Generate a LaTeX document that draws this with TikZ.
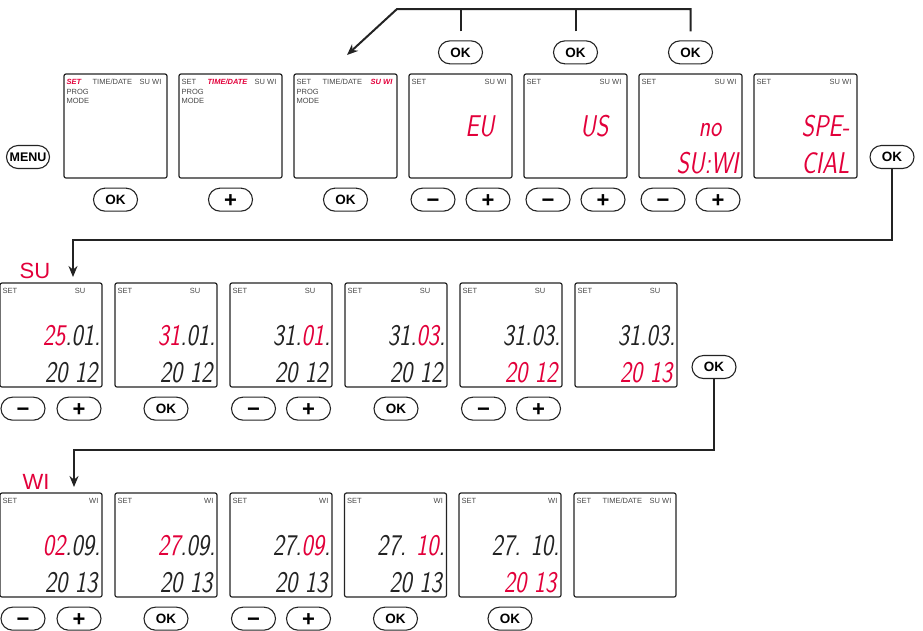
\documentclass[tikz,border=0pt]{standalone}
\usepackage{fontspec}
\setmainfont{Liberation Sans}
\usepackage{graphicx}
\usetikzlibrary{shapes.misc, arrows.meta, positioning}
\definecolor{lcdred}{RGB}{226,0,58}
\definecolor{ink}{RGB}{35,35,35}
\definecolor{tagc}{RGB}{70,70,70}
\newcommand{\seg}[1]{\scalebox{0.8}[1]{\fontsize{30}{30}\selectfont\sffamily\slshape #1}}
\newcommand{\hi}[1]{\textcolor{lcdred}{#1}}
\tikzset{
  % --- Anzeige ----------------------------------------------
  lcd/.style={draw=ink, line width=1.2pt, rounded corners=2pt,
    minimum width=103pt, minimum height=104pt, inner sep=0pt},
  lcdtag/.style={font=\fontsize{7.5}{8}\selectfont, text=tagc, inner sep=0pt},
  lcdon/.style={lcdtag, text=lcdred, font=\fontsize{7.5}{8}\selectfont\bfseries\itshape},
  digs/.style={inner sep=0pt, text=ink, anchor=base east},
  rowlbl/.style={text=lcdred, font=\fontsize{22}{22}\selectfont, inner sep=0pt},
  % --- Tasten -----------------------------------------------
  btn/.style={draw=ink, line width=1.1pt, rounded rectangle, minimum width=44pt,
    minimum height=23pt, inner sep=0pt, text height=9.6pt, text depth=0pt,
    font=\fontsize{13.5}{13.5}\selectfont\bfseries},
  btnsym/.style={btn, text height=15pt, font=\fontsize{22}{22}\selectfont\bfseries},
  % --- Pfeile -----------------------------------------------
  fl/.style={draw=ink, line width=2pt, -{Stealth[length=11pt, width=9pt]}},
  plain/.style={draw=ink, line width=2pt}
}
\begin{document}
\begin{tikzpicture}[x=1pt, y=-1pt]
  \useasboundingbox (0,0) rectangle (923,630);

  % --- Menue: SET / TIME/DATE / SU WI ---
  \node[btn, minimum width=43pt, font=\fontsize{12.5}{12.5}\selectfont\bfseries] (menu) at (28,157) {MENU};
  \node[lcd] (t1) at (115.5,126) {};
  \node[lcd] (t2) at (230.5,126) {};
  \node[lcd] (t3) at (345.5,126) {};
  \node[lcd] (t4) at (460.5,126) {};
  \node[lcd] (t5) at (575.5,126) {};
  \node[lcd] (t6) at (690.5,126) {};
  \node[lcd] (t7) at (805.5,126) {};

  \node[lcdon, anchor=base west] (t1a) at ([xshift=3pt, yshift=-11pt]t1.north west) {SET};
  \node[lcdtag, anchor=base west] (t1b) at ([xshift=29pt, yshift=-11pt]t1.north west) {TIME/DATE};
  \node[lcdtag, anchor=base east] (t1c) at ([xshift=-6pt, yshift=-11pt]t1.north east) {SU WI};
  \node[lcdtag, anchor=base west] (t1d) at ([xshift=3pt, yshift=-21pt]t1.north west) {PROG};
  \node[lcdtag, anchor=base west] (t1e) at ([xshift=3pt, yshift=-30pt]t1.north west) {MODE};

  \node[lcdtag, anchor=base west] (t2a) at ([xshift=3pt, yshift=-11pt]t2.north west) {SET};
  \node[lcdon, anchor=base west] (t2b) at ([xshift=29pt, yshift=-11pt]t2.north west) {TIME/DATE};
  \node[lcdtag, anchor=base east] (t2c) at ([xshift=-6pt, yshift=-11pt]t2.north east) {SU WI};
  \node[lcdtag, anchor=base west] (t2d) at ([xshift=3pt, yshift=-21pt]t2.north west) {PROG};
  \node[lcdtag, anchor=base west] (t2e) at ([xshift=3pt, yshift=-30pt]t2.north west) {MODE};

  \node[lcdtag, anchor=base west] (t3a) at ([xshift=3pt, yshift=-11pt]t3.north west) {SET};
  \node[lcdtag, anchor=base west] (t3b) at ([xshift=29pt, yshift=-11pt]t3.north west) {TIME/DATE};
  \node[lcdon, anchor=base east] (t3c) at ([xshift=-5pt, yshift=-11pt]t3.north east) {SU WI};
  \node[lcdtag, anchor=base west] (t3d) at ([xshift=3pt, yshift=-21pt]t3.north west) {PROG};
  \node[lcdtag, anchor=base west] (t3e) at ([xshift=3pt, yshift=-30pt]t3.north west) {MODE};

  % --- Auswahl EU / US / no SU:WI / SPE-CIAL ---
  \node[lcdtag, anchor=base west] (t4a) at ([xshift=3pt, yshift=-11pt]t4.north west) {SET};
  \node[lcdtag, anchor=base east] (t4c) at ([xshift=-6pt, yshift=-11pt]t4.north east) {SU WI};
  \node[digs] (t4x) at ([xshift=-18pt, yshift=-63pt]t4.north east) {\seg{\hi{EU}}};
  \node[lcdtag, anchor=base west] (t5a) at ([xshift=3pt, yshift=-11pt]t5.north west) {SET};
  \node[lcdtag, anchor=base east] (t5c) at ([xshift=-6pt, yshift=-11pt]t5.north east) {SU WI};
  \node[digs] (t5x) at ([xshift=-19pt, yshift=-63pt]t5.north east) {\seg{\hi{US}}};
  \node[lcdtag, anchor=base west] (t6a) at ([xshift=3pt, yshift=-11pt]t6.north west) {SET};
  \node[lcdtag, anchor=base east] (t6c) at ([xshift=-6pt, yshift=-11pt]t6.north east) {SU WI};
  \node[digs] (t6x) at ([xshift=-21pt, yshift=-63pt]t6.north east) {\seg{\hi{no}}};
  \node[digs] (t6y) at ([xshift=-4pt, yshift=-100pt]t6.north east) {\seg{\hi{SU:WI}}};
  \node[lcdtag, anchor=base west] (t7a) at ([xshift=3pt, yshift=-11pt]t7.north west) {SET};
  \node[lcdtag, anchor=base east] (t7c) at ([xshift=-6pt, yshift=-11pt]t7.north east) {SU WI};
  \node[digs] (t7x) at ([xshift=-8pt, yshift=-63pt]t7.north east) {\seg{\hi{SPE-}}};
  \node[digs] (t7y) at ([xshift=-8pt, yshift=-100pt]t7.north east) {\seg{\hi{CIAL}}};

  \node[btn, below=9pt of t1] (k1) {OK};
  \node[btnsym, below=9pt of t2] (k2) {+};
  \node[btn, below=9pt of t3] (k3) {OK};
  \node[btnsym, below=9pt of t4, xshift=-27.5pt] (k4m) {−};
  \node[btnsym, below=9pt of t4, xshift=27.5pt] (k4p) {+};
  \node[btnsym, below=9pt of t5, xshift=-27.5pt] (k5m) {−};
  \node[btnsym, below=9pt of t5, xshift=27.5pt] (k5p) {+};
  \node[btnsym, below=9pt of t6, xshift=-27.5pt] (k6m) {−};
  \node[btnsym, below=9pt of t6, xshift=27.5pt] (k6p) {+};
  \node[btn, above=9pt of t4] (okD) {OK};
  \node[btn, above=9pt of t5] (okE) {OK};
  \node[btn, above=9pt of t6] (okF) {OK};
  \node[btn] (okM) at (892,157) {OK};

  % --- OK fuehrt zurueck zu SU WI ---
  \coordinate (bend) at (397,9);
  \coordinate (tipT) at (347,55);
  \draw[fl] ([yshift=9pt]okF.north) |- (bend) -- (tipT);
  \draw[plain] ([yshift=9pt]okD.north) -- (okD.north |- bend);
  \draw[plain] ([yshift=9pt]okE.north) -- (okE.north |- bend);

  % --- Sommerzeit ---
  \node[rowlbl] (su) at (35,271) {SU};
  \node[lcd, minimum width=102pt] (s1) at (51,335) {};
  \node[lcd, minimum width=102pt] (s2) at (166,335) {};
  \node[lcd, minimum width=102pt] (s3) at (281,335) {};
  \node[lcd, minimum width=102pt] (s4) at (396,335) {};
  \node[lcd, minimum width=102pt] (s5) at (511,335) {};
  \node[lcd, minimum width=102pt] (s6) at (626,335) {};

  \node[lcdtag, anchor=base west] (s1a) at ([xshift=3pt, yshift=-11pt]s1.north west) {SET};
  \node[lcdtag, anchor=base east] (s1c) at ([xshift=-17pt, yshift=-11pt]s1.north east) {SU};
  \node[digs] (s1x) at ([xshift=-2pt, yshift=-63pt]s1.north east) {\seg{\hi{25}.01.}};
  \node[digs] (s1y) at ([xshift=-5pt, yshift=-100pt]s1.north east) {\seg{20 12}};
  \node[lcdtag, anchor=base west] (s2a) at ([xshift=3pt, yshift=-11pt]s2.north west) {SET};
  \node[lcdtag, anchor=base east] (s2c) at ([xshift=-17pt, yshift=-11pt]s2.north east) {SU};
  \node[digs] (s2x) at ([xshift=-2pt, yshift=-63pt]s2.north east) {\seg{\hi{31}.01.}};
  \node[digs] (s2y) at ([xshift=-5pt, yshift=-100pt]s2.north east) {\seg{20 12}};
  \node[lcdtag, anchor=base west] (s3a) at ([xshift=3pt, yshift=-11pt]s3.north west) {SET};
  \node[lcdtag, anchor=base east] (s3c) at ([xshift=-17pt, yshift=-11pt]s3.north east) {SU};
  \node[digs] (s3x) at ([xshift=-2pt, yshift=-63pt]s3.north east) {\seg{31.\hi{01}.}};
  \node[digs] (s3y) at ([xshift=-5pt, yshift=-100pt]s3.north east) {\seg{20 12}};
  \node[lcdtag, anchor=base west] (s4a) at ([xshift=3pt, yshift=-11pt]s4.north west) {SET};
  \node[lcdtag, anchor=base east] (s4c) at ([xshift=-17pt, yshift=-11pt]s4.north east) {SU};
  \node[digs] (s4x) at ([xshift=-2pt, yshift=-63pt]s4.north east) {\seg{31.\hi{03}.}};
  \node[digs] (s4y) at ([xshift=-5pt, yshift=-100pt]s4.north east) {\seg{20 12}};
  \node[lcdtag, anchor=base west] (s5a) at ([xshift=3pt, yshift=-11pt]s5.north west) {SET};
  \node[lcdtag, anchor=base east] (s5c) at ([xshift=-17pt, yshift=-11pt]s5.north east) {SU};
  \node[digs] (s5x) at ([xshift=-2pt, yshift=-63pt]s5.north east) {\seg{31.03.}};
  \node[digs] (s5y) at ([xshift=-5pt, yshift=-100pt]s5.north east) {\seg{\hi{20 12}}};
  \node[lcdtag, anchor=base west] (s6a) at ([xshift=3pt, yshift=-11pt]s6.north west) {SET};
  \node[lcdtag, anchor=base east] (s6c) at ([xshift=-17pt, yshift=-11pt]s6.north east) {SU};
  \node[digs] (s6x) at ([xshift=-2pt, yshift=-63pt]s6.north east) {\seg{31.03.}};
  \node[digs] (s6y) at ([xshift=-5pt, yshift=-100pt]s6.north east) {\seg{\hi{20 13}}};

  \node[btnsym, below=9pt of s1, xshift=-28pt] (u1m) {−};
  \node[btnsym, below=9pt of s1, xshift=28pt] (u1p) {+};
  \node[btn, below=9pt of s2] (u2) {OK};
  \node[btnsym, below=9pt of s3, xshift=-27.5pt] (u3m) {−};
  \node[btnsym, below=9pt of s3, xshift=27.5pt] (u3p) {+};
  \node[btn, below=9pt of s4] (u4) {OK};
  \node[btnsym, below=9pt of s5, xshift=-27.5pt] (u5m) {−};
  \node[btnsym, below=9pt of s5, xshift=27.5pt] (u5p) {+};
  \node[btn] (okS) at (714,367) {OK};

  \coordinate (bendSU) at (73,240);
  \coordinate (tipSU) at (73,277);
  \draw[fl] (okM.south) |- (bendSU) -- (tipSU);

  % --- Winterzeit ---
  \node[rowlbl] (wi) at (36,482) {WI};
  \node[lcd, minimum width=102pt] (w1) at (51,545) {};
  \node[lcd, minimum width=102pt] (w2) at (166,545) {};
  \node[lcd, minimum width=102pt] (w3) at (281,545) {};
  \node[lcd, minimum width=102pt] (w4) at (395.5,545) {};
  \node[lcd, minimum width=102pt] (w5) at (510,545) {};
  \node[lcd, minimum width=102pt] (w6) at (625,545) {};

  \node[lcdtag, anchor=base west] (w1a) at ([xshift=3pt, yshift=-11pt]w1.north west) {SET};
  \node[lcdtag, anchor=base east] (w1c) at ([xshift=-4pt, yshift=-11pt]w1.north east) {WI};
  \node[digs] (w1x) at ([xshift=-2pt, yshift=-63pt]w1.north east) {\seg{\hi{02}.09.}};
  \node[digs] (w1y) at ([xshift=-5pt, yshift=-100pt]w1.north east) {\seg{20 13}};
  \node[lcdtag, anchor=base west] (w2a) at ([xshift=3pt, yshift=-11pt]w2.north west) {SET};
  \node[lcdtag, anchor=base east] (w2c) at ([xshift=-4pt, yshift=-11pt]w2.north east) {WI};
  \node[digs] (w2x) at ([xshift=-2pt, yshift=-63pt]w2.north east) {\seg{\hi{27}.09.}};
  \node[digs] (w2y) at ([xshift=-5pt, yshift=-100pt]w2.north east) {\seg{20 13}};
  \node[lcdtag, anchor=base west] (w3a) at ([xshift=3pt, yshift=-11pt]w3.north west) {SET};
  \node[lcdtag, anchor=base east] (w3c) at ([xshift=-4pt, yshift=-11pt]w3.north east) {WI};
  \node[digs] (w3x) at ([xshift=-2pt, yshift=-63pt]w3.north east) {\seg{27.\hi{09}.}};
  \node[digs] (w3y) at ([xshift=-5pt, yshift=-100pt]w3.north east) {\seg{20 13}};
  \node[lcdtag, anchor=base west] (w4a) at ([xshift=3pt, yshift=-11pt]w4.north west) {SET};
  \node[lcdtag, anchor=base east] (w4c) at ([xshift=-4pt, yshift=-11pt]w4.north east) {WI};
  \node[digs] (w4x) at ([xshift=-2pt, yshift=-63pt]w4.north east) {\seg{27. \hi{10}.}};
  \node[digs] (w4y) at ([xshift=-5pt, yshift=-100pt]w4.north east) {\seg{20 13}};
  \node[lcdtag, anchor=base west] (w5a) at ([xshift=3pt, yshift=-11pt]w5.north west) {SET};
  \node[lcdtag, anchor=base east] (w5c) at ([xshift=-4pt, yshift=-11pt]w5.north east) {WI};
  \node[digs] (w5x) at ([xshift=-2pt, yshift=-63pt]w5.north east) {\seg{27. 10.}};
  \node[digs] (w5y) at ([xshift=-5pt, yshift=-100pt]w5.north east) {\seg{\hi{20 13}}};
  \node[lcdtag, anchor=base west] (w6a) at ([xshift=3pt, yshift=-11pt]w6.north west) {SET};
  \node[lcdtag, anchor=base west] (w6b) at ([xshift=29pt, yshift=-11pt]w6.north west) {TIME/DATE};
  \node[lcdtag, anchor=base east] (w6c) at ([xshift=-5pt, yshift=-11pt]w6.north east) {SU WI};

  \node[btnsym, below=9pt of w1, xshift=-28pt] (v1m) {−};
  \node[btnsym, below=9pt of w1, xshift=28pt] (v1p) {+};
  \node[btn, below=9pt of w2] (v2) {OK};
  \node[btnsym, below=9pt of w3, xshift=-27.5pt] (v3m) {−};
  \node[btnsym, below=9pt of w3, xshift=27.5pt] (v3p) {+};
  \node[btn, below=9pt of w4] (v4) {OK};
  \node[btn, below=9pt of w5] (v5) {OK};

  \coordinate (bendWI) at (74,450);
  \coordinate (tipWI) at (74,487);
  \draw[fl] (okS.south) |- (bendWI) -- (tipWI);

\end{tikzpicture}
\end{document}
